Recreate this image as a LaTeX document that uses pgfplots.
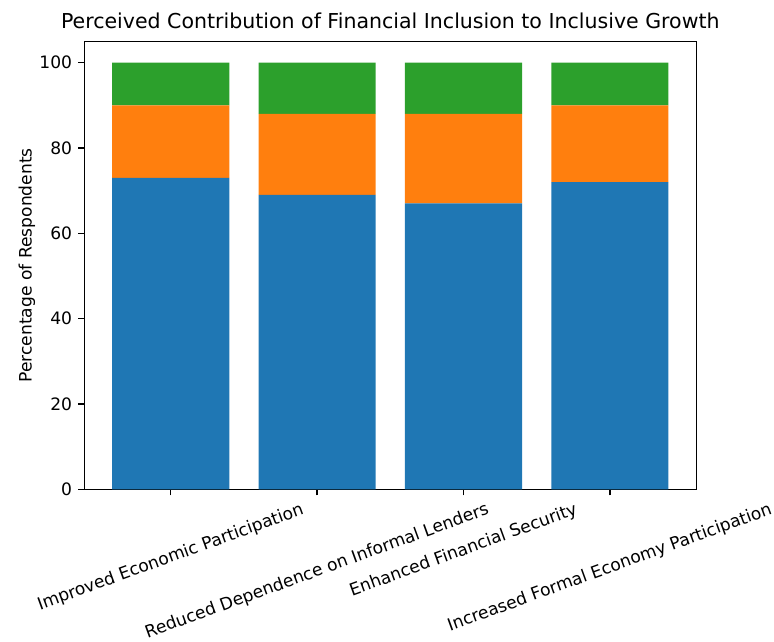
\documentclass[border=0pt]{standalone}
\usepackage{fontspec}
\setmainfont{DejaVu Sans}
\usepackage{graphicx}
\usepackage{pgfplots}
\pgfplotsset{compat=1.18}
\definecolor{c0}{HTML}{1F77B4}
\definecolor{c1}{HTML}{FF7F0E}
\definecolor{c2}{HTML}{2CA02C}
\begin{document}
\begin{tikzpicture}
\begin{axis}[
  scale only axis,
  width=357.8pt, height=262pt,
  ybar stacked, bar width=0.8,
  xmin=-0.59, xmax=3.59, ymin=0, ymax=105,
  xtick={0,1,2,3},
  xticklabels={{\rotatebox{20}{Improved Economic Participation}},
               {\rotatebox{20}{Reduced Dependence on Informal Lenders}},
               {\rotatebox{20}{Enhanced Financial Security}},
               {\rotatebox{20}{Increased Formal Economy Participation}}},
  ytick={0,20,40,60,80,100},
  tick align=outside, tick pos=left,
  major tick length=3.5pt,
  every tick/.style={black, line width=0.8pt},
  axis line style={line width=0.8pt},
  /pgf/number format/assume math mode=true,
  tick label style={font=\fontsize{10}{12}\selectfont},
  xticklabel style={anchor=north, inner sep=0pt, yshift=-3.5pt},
  yticklabel style={inner sep=0pt, xshift=-3.5pt},
  ylabel={Percentage of Respondents},
  ylabel style={font=\fontsize{10}{12}\selectfont, yshift=-1pt},
  title={Perceived Contribution of Financial Inclusion to Inclusive Growth},
  title style={font=\fontsize{12}{14}\selectfont, yshift=-2pt},
]
\addplot[fill=c0, draw=none] coordinates {(0,73) (1,69) (2,67) (3,72)};
\addplot[fill=c1, draw=none] coordinates {(0,17) (1,19) (2,21) (3,18)};
\addplot[fill=c2, draw=none] coordinates {(0,10) (1,12) (2,12) (3,10)};
\end{axis}
\path (current bounding box.west) ++(-7.5pt,0);
\path (current bounding box.north) ++(0,4pt);
\end{tikzpicture}
\end{document}
